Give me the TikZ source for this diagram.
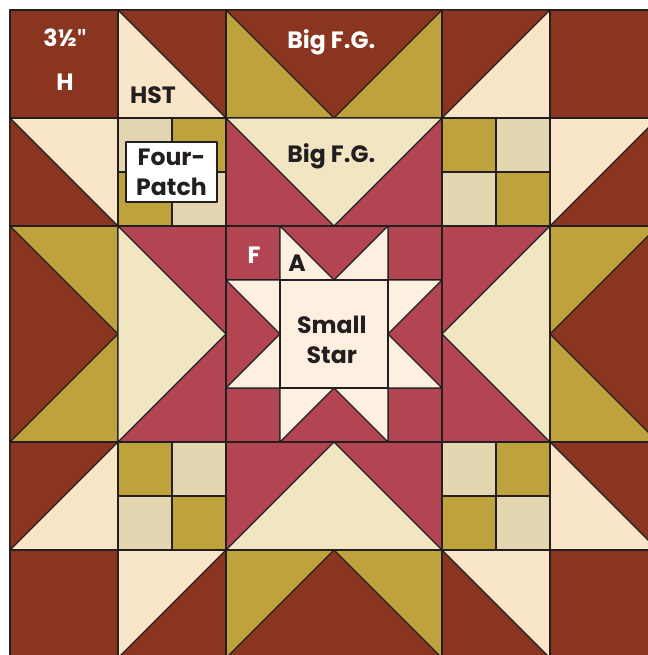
\documentclass[tikz,border=0pt]{standalone}
\usepackage{fontspec}
\setmainfont{Poppins}
\newfontfamily\quotefont{Lato}
\definecolor{ink}{HTML}{231F20}
\definecolor{rust}{HTML}{8A3520}
\definecolor{cream}{HTML}{F9E6C8}
\definecolor{gold}{HTML}{BEA23B}
\definecolor{sand}{HTML}{E3D6B0}
\definecolor{pale}{HTML}{F2E5C2}
\definecolor{rose}{HTML}{B34552}
\definecolor{shell}{HTML}{FEF0E0}
\begin{document}
\begin{tikzpicture}[x=54pt,y=-54pt,line width=0.7pt,line join=round,
  patch/.style={draw=ink},
  lbl/.style={font=\bfseries\fontsize{11.8}{15}\selectfont,text=ink,inner sep=0pt,anchor=base},
  wlbl/.style={lbl,text=white}]
\useasboundingbox (-10/108,-10/108) rectangle (638/108,645/108);

\foreach \c/\r in {0/0,5/0,0/5,5/5}
  \filldraw[patch,fill=rust] (\c,\r) rectangle ++(1,1);

\foreach \c/\r in {1/0,4/0,0/1,5/1,0/4,5/4,1/5,4/5}
  \filldraw[patch,fill=cream] (\c,\r) rectangle ++(1,1);
\filldraw[patch,fill=rust] (1,0) -- (2,0) -- (2,1) -- cycle;
\filldraw[patch,fill=rust] (4,0) -- (5,0) -- (4,1) -- cycle;
\filldraw[patch,fill=rust] (0,1) -- (0,2) -- (1,2) -- cycle;
\filldraw[patch,fill=rust] (6,1) -- (6,2) -- (5,2) -- cycle;
\filldraw[patch,fill=rust] (0,4) -- (1,4) -- (0,5) -- cycle;
\filldraw[patch,fill=rust] (5,4) -- (6,4) -- (6,5) -- cycle;
\filldraw[patch,fill=rust] (2,5) -- (2,6) -- (1,6) -- cycle;
\filldraw[patch,fill=rust] (4,5) -- (4,6) -- (5,6) -- cycle;

\foreach \c/\r/\u/\v in {1/1/sand/gold,4/4/sand/gold,4/1/gold/sand,1/4/gold/sand} {
  \filldraw[patch,fill=\u] (\c,\r) rectangle ++(.5,.5);
  \filldraw[patch,fill=\v] (\c+.5,\r) rectangle ++(.5,.5);
  \filldraw[patch,fill=\v] (\c,\r+.5) rectangle ++(.5,.5);
  \filldraw[patch,fill=\u] (\c+.5,\r+.5) rectangle ++(.5,.5);
}

\filldraw[patch,fill=gold] (2,0) rectangle (4,1);
\filldraw[patch,fill=rust] (2,0) -- (4,0) -- (3,1) -- cycle;
\filldraw[patch,fill=rose] (2,1) rectangle (4,2);
\filldraw[patch,fill=pale] (2,1) -- (4,1) -- (3,2) -- cycle;
\filldraw[patch,fill=gold] (0,2) rectangle (1,4);
\filldraw[patch,fill=rust] (0,2) -- (0,4) -- (1,3) -- cycle;
\filldraw[patch,fill=rose] (1,2) rectangle (2,4);
\filldraw[patch,fill=pale] (1,2) -- (1,4) -- (2,3) -- cycle;
\filldraw[patch,fill=rose] (4,2) rectangle (5,4);
\filldraw[patch,fill=pale] (5,2) -- (5,4) -- (4,3) -- cycle;
\filldraw[patch,fill=gold] (5,2) rectangle (6,4);
\filldraw[patch,fill=rust] (6,2) -- (6,4) -- (5,3) -- cycle;
\filldraw[patch,fill=rose] (2,4) rectangle (4,5);
\filldraw[patch,fill=pale] (2,5) -- (4,5) -- (3,4) -- cycle;
\filldraw[patch,fill=gold] (2,5) rectangle (4,6);
\filldraw[patch,fill=rust] (2,6) -- (4,6) -- (3,5) -- cycle;

\filldraw[patch,fill=rose] (2,2) rectangle (4,4);
\draw[patch] (2.5,2) -- (2.5,4) (3.5,2) -- (3.5,4) (2,2.5) -- (4,2.5) (2,3.5) -- (4,3.5);
\foreach \ang in {0,90,180,270}
  \filldraw[patch,fill=shell,rotate around={\ang:(3,3)}]
    (2.5,2) -- (2.5,2.5) -- (3,2.5) -- cycle (3.5,2) -- (3.5,2.5) -- (3,2.5) -- cycle;
\filldraw[patch,fill=shell] (2.5,2.5) rectangle (3.5,3.5);

\node[wlbl] (size) at (0.509,0.34) {3½{\quotefont"}};
\node[wlbl] (hcut) at (0.509,0.741) {H};
\node[lbl] (hst) at (1.324,0.864) {HST};
\node[wlbl] (fgtop) at (2.975,0.355) {Big F.G.};
\node[lbl] (fgmid) at (2.975,1.413) {Big F.G.};
\node[lbl,anchor=center,align=center,draw=ink,fill=white,
  minimum width=45.5pt,minimum height=30pt] (four) at (1.495,1.5) {Four-\\Patch};
\node[wlbl] (fcut) at (2.259,2.346) {F};
\node[lbl] (acut) at (2.657,2.423) {A};
\node[lbl,anchor=center,align=center] (star) at (2.98,3.05) {Small\\Star};
\end{tikzpicture}
\end{document}
